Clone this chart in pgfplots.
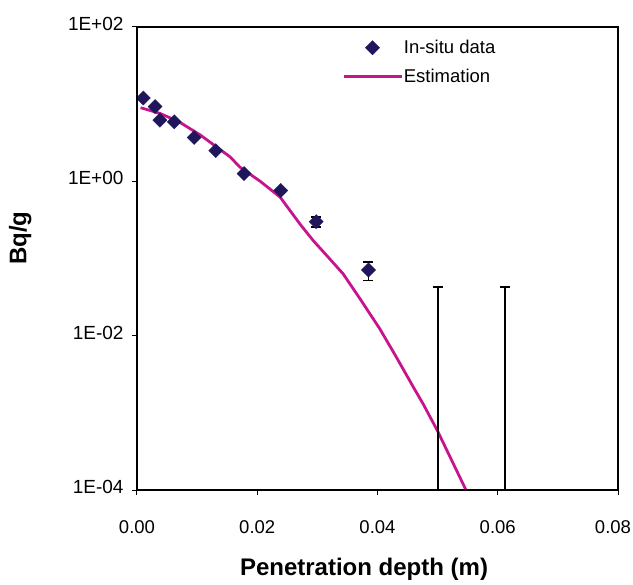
\documentclass[border=0pt]{standalone}
\usepackage{fontspec}
\setmainfont{Liberation Sans}
\usepackage{pgfplots}
\pgfplotsset{compat=1.18}
\definecolor{est}{RGB}{200,20,140}
\definecolor{navy}{RGB}{32,22,92}
\begin{document}
\begin{tikzpicture}
\begin{axis}[
  scale only axis,
  width=481bp, height=463bp,
  ymode=log,
  axis lines=box,
  xmin=0, xmax=0.08, ymin=1e-4, ymax=1e2,
  scaled x ticks=false,
  xtick={0,0.02,0.04,0.06,0.08},
  xticklabels={0.00,0.02,0.04,0.06,\hspace*{-10bp}0.08},
  ytick={1e-4,1e-2,1,1e2},
  yticklabels={1E-04,1E-02,1E+00,1E+02},
  minor ytick={}, yminorticks=false,
  tick align=outside, major tick length=5bp,
  tick style={black, line width=1bp},
  axis line style={black, line width=1.3bp},
  xtick pos=bottom, ytick pos=left,
  tick label style={font=\fontsize{19bp}{22bp}\selectfont},
  xticklabel style={yshift=-22bp, font=\fontsize{18.5bp}{21bp}\selectfont},
  yticklabel style={xshift=-5bp, yshift=3bp},
  xlabel={\bfseries Penetration depth (m)},
  ylabel={\bfseries Bq/g},
  label style={font=\fontsize{24bp}{28bp}\selectfont},
  xlabel style={at={(axis description cs:0.472,-0.171)}, anchor=center},
  ylabel style={at={(axis description cs:-0.243,0.544)}, anchor=center},
  legend image code/.code={\draw[mark repeat=2,mark phase=2,#1] plot coordinates {(0bp,0bp)(29bp,0bp)(58bp,0bp)};},
  legend style={draw=none, fill=none, inner sep=0pt, anchor=north west,
    at={(axis description cs:0.426,0.974)},
    font=\fontsize{18.5bp}{22bp}\selectfont,
    row sep=12bp, column sep=0pt,
    nodes={inner sep=1bp}},
  legend cell align=left,
]
\addplot[only marks, mark=square*, mark size=5bp, navy,
  mark options={rotate=45, fill=navy, draw=navy},
  error bars/.cd, y dir=both, y explicit,
  error bar style={black, line width=1.6bp},
  error mark options={black, line width=1.6bp, mark size=5bp, rotate=90}]
  coordinates {
  (0.00105,12.0) +- (0,0)
  (0.0030,9.3) +- (0,0)
  (0.0038,6.2) +- (0,0)
  (0.0062,5.9) +- (0,0)
  (0.0095,3.7) +- (0,0)
  (0.0131,2.5) +- (0,0.12)
  (0.0178,1.26) +- (0,0)
  (0.0239,0.76) +- (0,0.04)
  (0.0298,0.30) +- (0,0.045)
  (0.0385,0.071) +- (0,0.019)
  };
\addlegendentry{In-situ data}
\addplot[est, line width=2.8bp, mark=none] coordinates {
  (0.0006,9.0) (0.0038,7.6) (0.0070,5.9) (0.0105,4.0) (0.0155,2.07)
  (0.0171,1.53) (0.0205,1.0) (0.0238,0.625) (0.0271,0.28) (0.0293,0.171)
  (0.0320,0.10) (0.0343,0.063) (0.0371,0.030) (0.0404,0.0122)
  (0.0430,0.0055) (0.0460,0.00213) (0.0476,0.0013) (0.0500,5.8e-4) (0.0548,9.7e-5)
  };
\addlegendentry{Estimation}
\addplot[forget plot, draw=none, mark=none,
  error bars/.cd, y dir=plus, y explicit,
  error bar style={black, line width=1.8bp},
  error mark options={black, line width=1.8bp, mark size=5bp, rotate=90}]
  coordinates {
  (0.0500,1e-4) +- (0,0.043)
  (0.0612,1e-4) +- (0,0.043)
  };
\end{axis}
\draw[black, line width=1.3bp] (current axis.south west) rectangle (current axis.north east);
\pgfresetboundingbox
\path (current axis.south west) ++(-137bp,-95bp) rectangle ++(633bp,585bp);
\end{tikzpicture}
\end{document}
